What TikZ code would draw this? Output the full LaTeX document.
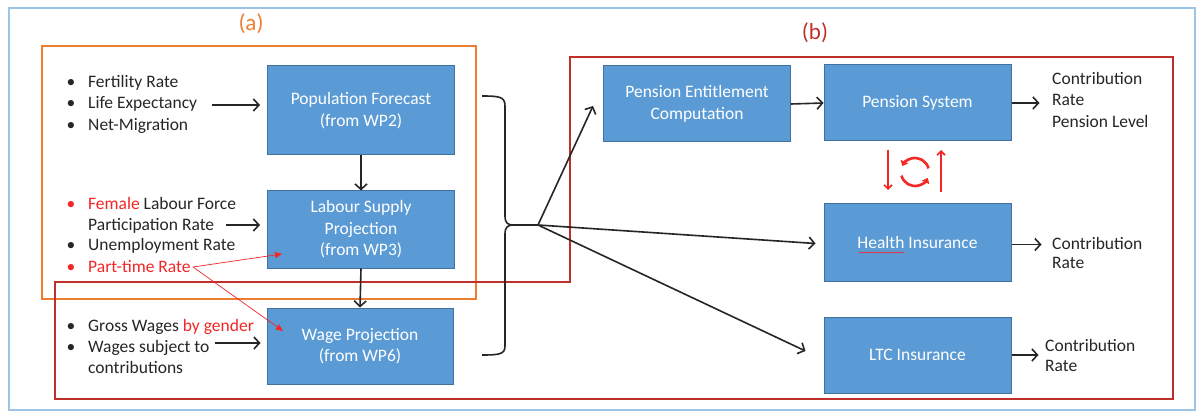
\documentclass[tikz,border=0pt]{standalone}
\usepackage{fontspec}
\setmainfont{Carlito}
\usetikzlibrary{arrows.meta,calc,decorations.pathmorphing}
\definecolor{boxfill}{HTML}{5B9BD5}
\definecolor{boxedge}{HTML}{41719C}
\definecolor{orng}{HTML}{ED7D31}
\definecolor{dred}{HTML}{C0302A}
\definecolor{brightred}{HTML}{F42626}
\definecolor{frameblue}{HTML}{9DC3E6}
\definecolor{ink}{HTML}{262626}
\begin{document}
\begin{tikzpicture}[x=1pt,y=-1pt,
 blk/.style={draw=boxedge, line width=1pt, fill=boxfill, text=white, align=center, minimum width=187pt, minimum height=76pt, inner sep=0pt, font=\fontsize{17.5}{21.5}\selectfont},
 txt/.style={anchor=base west, inner sep=0pt, text=ink, font=\fontsize{17.5}{21}\selectfont},
 bul/.style={anchor=base, inner sep=0pt, text=ink, font=\fontsize{17.5}{21}\selectfont},
 arr/.style={draw=ink, line width=1.6pt, -{Straight Barb[length=5.5pt,width=12pt]}},
 redarr/.style={draw=brightred, line width=0.7pt, -{Triangle[length=7pt,width=6pt]}},
 lbl/.style={inner sep=0pt, font=\fontsize{23}{26}\selectfont},
]
\useasboundingbox (0,0) rectangle (1203,417);
\fill[white] (0,0) rectangle (1203,417);
\draw[frameblue, line width=1.5pt] (9,8) rectangle (1195,410);

% frames
\draw[orng, line width=1.5pt] (42,46) rectangle (476,299);
\draw[dred, line width=1.5pt] (570,57) -- (1173,57) -- (1173,399) -- (55,399) -- (55,282) -- (570,282) -- cycle;
\node[lbl, text=orng] (la) at (251,24) {(a)};
\node[lbl, text=dred] (lb) at (815,33) {(b)};

% blue boxes
\node[blk, minimum height=89pt] (pf) at (361,110.5) {Population Forecast\\(from WP2)};
\node[blk, minimum height=77pt] (ls) at (361,229.5) {Labour Supply\\Projection\\(from WP3)};
\node[blk, minimum width=186pt] (wp) at (360,346) {Wage Projection\\(from WP6)};
\node[blk] (pec) at (697,104) {Pension Entitlement\\Computation};
\node[blk] (ps) at (917.5,103) {Pension System};
\node[blk, minimum height=77pt] (hi) at (917.5,242.5) {Health Insurance};
\node[blk] (ltc) at (917.5,355) {LTC Insurance};

% list 1
\node[bul] (b1a) at (71,88) {\textbullet};
\node[bul] (b1b) at (71,109) {\textbullet};
\node[bul] (b1c) at (71,131) {\textbullet};
\node[txt] (t1a) at (88,88) {Fertility Rate};
\node[txt] (t1b) at (88,109) {Life Expectancy};
\node[txt] (t1c) at (88,131) {Net-Migration};
% list 2
\node[bul, text=brightred] (b2a) at (71,209) {\textbullet};
\node[bul] (b2c) at (71,251) {\textbullet};
\node[bul, text=brightred] (b2d) at (71,272) {\textbullet};
\node[txt] (t2a) at (88,209) {\textcolor{brightred}{Female} Labour Force};
\node[txt] (t2b) at (88,230) {Participation Rate};
\node[txt] (t2c) at (88,251) {Unemployment Rate};
\node[txt, text=brightred] (t2d) at (88,272) {Part-time Rate};
% list 3
\node[bul] (b3a) at (71,331) {\textbullet};
\node[bul] (b3b) at (71,352) {\textbullet};
\node[txt] (t3a) at (88,331) {Gross Wages \textcolor{brightred}{by gender}};
\node[txt] (t3b) at (88,352) {Wages subject to};
\node[txt] (t3c) at (88,373) {contributions};

% right texts
\node[txt] (o1a) at (1052,85) {Contribution};
\node[txt] (o1b) at (1052,106) {Rate};
\node[txt] (o1c) at (1052,128) {Pension Level};
\node[txt] (o2a) at (1052,249) {Contribution};
\node[txt] (o2b) at (1052,269) {Rate};
\node[txt] (o3a) at (1045,351) {Contribution};
\node[txt] (o3b) at (1045,371) {Rate};

% input arrows
\draw[arr] ($(t1b.base east)+(15,-4)$) -- ($(pf.west |- t1b.base)+(-7,-4)$);
\draw[arr] ($(t2b.base east)+(12,-5)$) -- ($(ls.west |- t2b.base)+(-7,-5)$);
\draw[arr] ($(t3b.base east)+(5,-9)$) -- ($(wp.west |- t3b.base)+(-6,-9)$);

% vertical arrows
\draw[arr] (pf.south) -- (ls.north);
\draw[arr] (ls.south) -- (wp.north);

% red arrows
\coordinate (pt) at (193,267);
\draw[redarr] (pt) -- (282,254);
\draw[redarr] (pt) -- (283,331);

% brace
\draw[ink, line width=1.6pt] (482,96) .. controls (500,96) and (505,97) .. (505,106) -- (505,216) .. controls (505,223) and (508,225) .. (513,225) .. controls (508,225) and (505,227) .. (505,234) -- (505,346) .. controls (505,354) and (500,355) .. (482,355);
\coordinate (tip) at (513,225);
\coordinate (fan) at (538,225);
\draw[ink, line width=1.6pt] (tip) -- (fan);
\draw[arr] (fan) -- ($(pec.west)+(-10,2)$);
\draw[arr] (fan) -- ($(hi.west)+(-8,1)$);
\draw[arr] (fan) -- ($(ltc.west)+(-18,-4)$);

% right arrows
\draw[arr] (pec.east) -- (ps.west);
\draw[arr] (ps.east) -- ++(28,0);
\draw[arr] ($(hi.east)+(0,2)$) -- ++(30,0);
\draw[arr] (ltc.east) -- ++(27,0);

% spelling underline
\draw[brightred, line width=0.5pt, decorate, decoration={snake, amplitude=0.6pt, segment length=2.5pt}] ($(hi.center)+(-59,10)$) -- ($(hi.center)+(-13,10)$);

% cycle icon
\draw[brightred, line width=1.6pt, -{Straight Barb[length=4pt,width=8pt]}] (888,150) -- (888,190);
\draw[brightred, line width=1.6pt, -{Straight Barb[length=4pt,width=8pt]}] (941,192) -- (941,150);
\draw[brightred, line width=2.6pt, -{Triangle[length=5pt,width=8pt]}] (915,172) ++(165:14 and 14) arc[start angle=165, end angle=25, x radius=14, y radius=14];
\draw[brightred, line width=2.6pt, -{Triangle[length=5pt,width=8pt]}] (915,172) ++(-15:14 and 14) arc[start angle=-15, end angle=-155, x radius=14, y radius=14];
\end{tikzpicture}
\end{document}
